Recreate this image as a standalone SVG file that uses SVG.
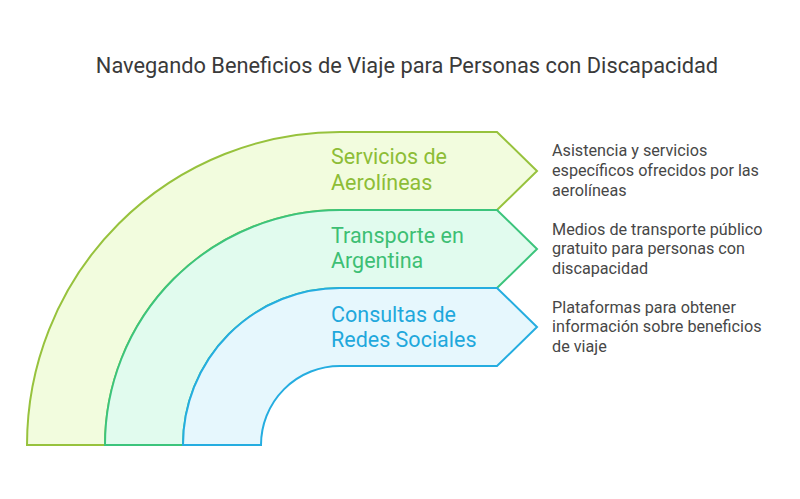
<svg xmlns="http://www.w3.org/2000/svg" width="800" height="499" viewBox="0 0 800 499">
<style>
.band{stroke-width:2;stroke-linejoin:miter}
.lbl{font-family:Roboto,"Liberation Sans",sans-serif;font-size:21.5px}
.desc{font-family:Roboto,"Liberation Sans",sans-serif;font-size:16.2px;fill:#474747}
.title{font-family:Roboto,"Liberation Sans",sans-serif;font-size:21.8px;fill:#3a3a3a}
</style>
<rect width="800" height="499" fill="#ffffff"/>
<text class="title" x="407" y="73" text-anchor="middle">Navegando Beneficios de Viaje para Personas con Discapacidad</text>
<g id="node-aerolineas">
<path class="band" d="M27 445 A313 313 0 0 1 340 132 L497 132 L537 171 L497 210 L340 210 A235 235 0 0 0 105 445 Z" fill="#f2fcde" stroke="#97c23d"/>
<text class="lbl" fill="#8dbd36" x="331" y="164">Servicios de</text>
<text class="lbl" fill="#8dbd36" x="331" y="190">Aerolíneas</text>
<text class="desc" x="552" y="156">Asistencia y servicios</text>
<text class="desc" x="552" y="176">específicos ofrecidos por las</text>
<text class="desc" x="552" y="195.5">aerolíneas</text>
</g>
<g id="node-transporte">
<path class="band" d="M105 445 A235 235 0 0 1 340 210 L497 210 L537 249 L497 288 L340 288 A157 157 0 0 0 183 445 Z" fill="#e1fbee" stroke="#3cc47c"/>
<text class="lbl" fill="#3dbf74" x="331" y="243">Transporte en</text>
<text class="lbl" fill="#3dbf74" x="331" y="268">Argentina</text>
<text class="desc" x="552" y="234.5">Medios de transporte público</text>
<text class="desc" x="552" y="254">gratuito para personas con</text>
<text class="desc" x="552" y="273.5">discapacidad</text>
</g>
<g id="node-redes">
<path class="band" d="M183 445 A157 157 0 0 1 340 288 L497 288 L537 327 L497 366 L340 366 A79 79 0 0 0 261 445 Z" fill="#e6f7fd" stroke="#25ade0"/>
<text class="lbl" fill="#1fa8dc" x="331" y="322">Consultas de</text>
<text class="lbl" fill="#1fa8dc" x="331" y="347">Redes Sociales</text>
<text class="desc" x="552" y="312.5">Plataformas para obtener</text>
<text class="desc" x="552" y="332">información sobre beneficios</text>
<text class="desc" x="552" y="351.5">de viaje</text>
</g>
<g id="connectors"></g>
</svg>
